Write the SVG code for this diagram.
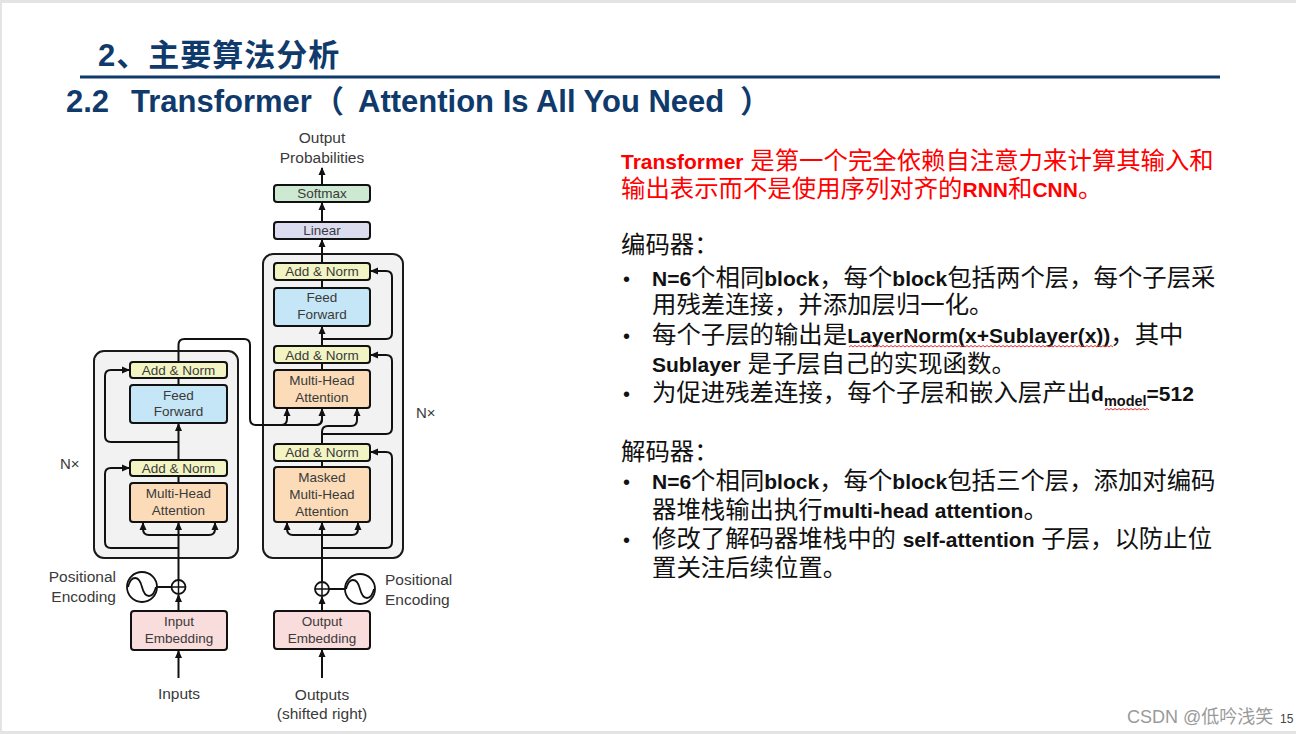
<svg xmlns="http://www.w3.org/2000/svg" width="1296" height="734" viewBox="0 0 1296 734">
<defs>
<marker id="ah" markerUnits="userSpaceOnUse" markerWidth="8" markerHeight="8" refX="7" refY="4" orient="auto">
<path d="M0,0.5 L8,4 L0,7.5 Z" fill="#111"/>
</marker>
<style>
.outer{fill:#f2f2f2;stroke:#1a1a1a;stroke-width:2}
.box{stroke:#111;stroke-width:2}
.an{fill:#f2f4c4}
.ff{fill:#c4e6f6}
.mha{fill:#fcdcb8}
.emb{fill:#f9dcdc}
.sm{fill:#cde9d2}
.lin{fill:#dcdcf0}
.lbl{font-family:"Liberation Sans",Arial,sans-serif;font-size:13.5px;fill:#3a3a3a;text-anchor:middle;dominant-baseline:central}
.olbl{font-family:"Liberation Sans",Arial,sans-serif;font-size:15.5px;fill:#3a3a3a;dominant-baseline:central}
.c{fill:none;stroke:#111;stroke-width:2}
.ca{fill:none;stroke:#111;stroke-width:2;marker-end:url(#ah)}
.hd{font-family:"Liberation Sans","Noto Sans CJK SC",sans-serif;font-weight:bold;fill:#0f3a6b}
.bt{font-family:"Liberation Sans","Noto Sans CJK SC",sans-serif;font-size:24.4px;fill:#111}
.b{font-weight:bold;font-size:21px}
.red{fill:#ff0000}
.sq{fill:none;stroke:#e03030;stroke-width:1}
</style>
</defs>
<rect x="0" y="0" width="1296" height="734" fill="#e4e4e4"/>
<rect x="2" y="3" width="1294" height="728" fill="#ffffff"/>

<!-- header -->
<text class="hd" x="98" y="66" font-size="31" letter-spacing="1">2、主要算法分析</text>
<line x1="80" y1="77" x2="1220" y2="77" stroke="#0f3a6b" stroke-width="3"/>
<text class="hd" y="112" font-size="31"><tspan x="66">2.2</tspan><tspan x="131">Transformer</tspan><tspan x="313" font-family="Noto Sans CJK SC,sans-serif">（</tspan><tspan x="358">Attention Is All You Need</tspan><tspan x="740" font-family="Noto Sans CJK SC,sans-serif">）</tspan></text>

<!-- encoder -->
<g id="encoder">
<rect class="outer" x="94" y="351" width="144" height="207" rx="10"/>
<text class="lbl" x="60" y="463" style="text-anchor:start;font-size:15px">N×</text>
</g>
<g id="enc-addnorm2"><rect class="box an" x="130" y="362" width="97" height="16" rx="3"/><text class="lbl" x="178.5" y="370.5">Add &amp; Norm</text></g>
<g id="enc-ff"><rect class="box ff" x="130" y="385" width="97" height="38" rx="3"/><text class="lbl" x="178.5" y="395">Feed</text><text class="lbl" x="178.5" y="411">Forward</text></g>
<g id="enc-addnorm1"><rect class="box an" x="130" y="460" width="97" height="16" rx="3"/><text class="lbl" x="178.5" y="468.5">Add &amp; Norm</text></g>
<g id="enc-mha"><rect class="box mha" x="130" y="483" width="97" height="39" rx="3"/><text class="lbl" x="178.5" y="493">Multi-Head</text><text class="lbl" x="178.5" y="510">Attention</text></g>
<g id="enc-emb"><rect class="box emb" x="131" y="611" width="96" height="39" rx="3"/><text class="lbl" x="179" y="621">Input</text><text class="lbl" x="179" y="638">Embedding</text></g>
<g id="enc-pe">
<circle cx="142" cy="587" r="15" fill="#fff" stroke="#111" stroke-width="1.8"/>
<path d="M128,587 C131,575 139,575 142,587 S153,599 156,587" fill="none" stroke="#111" stroke-width="1.8"/>
<circle cx="178.5" cy="587" r="7" fill="#fff" stroke="#111" stroke-width="1.8"/>
<path d="M171.5,587 H185.5 M178.5,580 V594" stroke="#111" stroke-width="1.5"/>
<text class="olbl" x="116" y="576" text-anchor="end">Positional</text>
<text class="olbl" x="116" y="596" text-anchor="end">Encoding</text>
</g>
<g id="enc-input"><text class="olbl" x="179" y="693" text-anchor="middle">Inputs</text></g>

<!-- decoder -->
<g id="decoder">
<rect class="outer" x="263" y="254" width="140" height="304" rx="10"/>
<text class="lbl" x="416" y="412" style="text-anchor:start;font-size:15px">N×</text>
</g>
<g id="dec-addnorm3"><rect class="box an" x="274" y="263" width="96" height="17" rx="3"/><text class="lbl" x="322" y="271.5">Add &amp; Norm</text></g>
<g id="dec-ff"><rect class="box ff" x="274" y="288" width="96" height="38" rx="3"/><text class="lbl" x="322" y="297">Feed</text><text class="lbl" x="322" y="314">Forward</text></g>
<g id="dec-addnorm2"><rect class="box an" x="274" y="346" width="96" height="17" rx="3"/><text class="lbl" x="322" y="355">Add &amp; Norm</text></g>
<g id="dec-mha"><rect class="box mha" x="274" y="370" width="96" height="38" rx="3"/><text class="lbl" x="322" y="380">Multi-Head</text><text class="lbl" x="322" y="397">Attention</text></g>
<g id="dec-addnorm1"><rect class="box an" x="274" y="444" width="96" height="17" rx="3"/><text class="lbl" x="322" y="452.5">Add &amp; Norm</text></g>
<g id="dec-mmha"><rect class="box mha" x="274" y="467" width="96" height="55" rx="3"/><text class="lbl" x="322" y="477">Masked</text><text class="lbl" x="322" y="494">Multi-Head</text><text class="lbl" x="322" y="511">Attention</text></g>
<g id="dec-emb"><rect class="box emb" x="274" y="611" width="96" height="38" rx="3"/><text class="lbl" x="322" y="621">Output</text><text class="lbl" x="322" y="638">Embedding</text></g>
<g id="dec-pe">
<circle cx="360" cy="589" r="15" fill="#fff" stroke="#111" stroke-width="1.8"/>
<path d="M346,589 C349,577 357,577 360,589 S371,601 374,589" fill="none" stroke="#111" stroke-width="1.8"/>
<circle cx="322" cy="589" r="7" fill="#fff" stroke="#111" stroke-width="1.8"/>
<path d="M315,589 H329 M322,582 V596" stroke="#111" stroke-width="1.5"/>
<text class="olbl" x="385" y="579">Positional</text>
<text class="olbl" x="385" y="599">Encoding</text>
</g>
<g id="dec-input"><text class="olbl" x="322" y="694" text-anchor="middle">Outputs</text><text class="olbl" x="322" y="713" text-anchor="middle">(shifted right)</text></g>
<g id="linear"><rect class="box lin" x="274" y="222" width="96" height="17" rx="3"/><text class="lbl" x="322" y="230.5">Linear</text></g>
<g id="softmax"><rect class="box sm" x="274" y="185" width="96" height="17" rx="3"/><text class="lbl" x="322" y="193.5">Softmax</text></g>
<g id="output"><text class="olbl" x="322" y="137" text-anchor="middle">Output</text><text class="olbl" x="322" y="157" text-anchor="middle">Probabilities</text></g>

<!-- connectors -->
<g id="connectors">
<path class="ca" d="M178.5,678 V651"/>
<path class="ca" d="M178.5,611 V595"/>
<path class="c" d="M157,587 H171.5"/>
<path class="ca" d="M178.5,580 V523"/>
<path class="ca" d="M178.5,535 H149 Q143,535 143,529 V523"/>
<path class="ca" d="M178.5,535 H209 Q215,535 215,529 V523"/>
<path class="ca" d="M178.5,548 H111 Q105,548 105,542 V474 Q105,468 111,468 H129"/>
<path class="c" d="M178.5,483 V476"/>
<path class="ca" d="M178.5,460 V424"/>
<path class="ca" d="M178.5,442 H111 Q105,442 105,436 V376 Q105,370 111,370 H129"/>
<path class="c" d="M178.5,385 V378"/>
<path class="c" d="M178.5,362 V345 Q178.5,339 184.5,339 H244 Q250,339 250,345 V419 Q250,425 256,425 H316 Q322,425 322,419 V409"/>
<path class="ca" d="M281,425 Q287,425 287,419 V409"/>
<path class="ca" d="M316,425 Q322,425 322,419 V409"/>
<path class="ca" d="M322,678 V650"/>
<path class="ca" d="M322,611 V597"/>
<path class="c" d="M329,589 H345"/>
<path class="ca" d="M322,582 V523"/>
<path class="ca" d="M322,535 H293 Q287,535 287,529 V523"/>
<path class="ca" d="M322,535 H352 Q358,535 358,529 V523"/>
<path class="ca" d="M322,548 H386 Q392,548 392,542 V458 Q392,452 386,452 H371"/>
<path class="c" d="M322,467 V461"/>
<path class="ca" d="M322,444 V432 Q322,426 328,426 H351 Q357,426 357,420 V409"/>
<path class="ca" d="M322,434 H386 Q392,434 392,428 V361 Q392,355 386,355 H371"/>
<path class="c" d="M322,370 V363"/>
<path class="ca" d="M322,346 V327"/>
<path class="ca" d="M322,339 H386 Q392,339 392,333 V277 Q392,271 386,271 H371"/>
<path class="c" d="M322,288 V280"/>
<path class="ca" d="M322,263 V240"/>
<path class="ca" d="M322,222 V203"/>
<path class="ca" d="M322,185 V168"/>
</g>

<!-- right text -->
<g id="notes">
<text class="bt red" y="169"><tspan x="621" class="b">Transformer</tspan> 是第一个完全依赖自注意力来计算其输入和</text>
<text class="bt red" y="197" x="621">输出表示而不是使用序列对齐的<tspan class="b">RNN</tspan>和<tspan class="b">CNN</tspan>。</text>
<text class="bt" x="621" y="253">编码器：</text>
<text class="bt" y="286"><tspan x="623" font-size="20">•</tspan><tspan x="652" class="b">N=6</tspan>个相同<tspan class="b">block</tspan>，每个<tspan class="b">block</tspan>包括两个层，每个子层采</text>
<text class="bt" x="652" y="313">用残差连接，并添加层归一化。</text>
<text class="bt" y="343"><tspan x="623" font-size="20">•</tspan><tspan x="652">每个子层的输出是</tspan><tspan class="b">LayerNorm(x+Sublayer(x))</tspan>，其中</text>
<text class="bt" x="652" y="372"><tspan class="b">Sublayer</tspan> 是子层自己的实现函数。</text>
<text class="bt" y="401"><tspan x="623" font-size="20">•</tspan><tspan x="652">为促进残差连接，每个子层和嵌入层产出</tspan><tspan class="b">d</tspan><tspan class="b" style="font-size:14.5px" dy="5">model</tspan><tspan class="b" dy="-5">=512</tspan></text>
<text class="bt" x="621" y="460">解码器：</text>
<text class="bt" y="489"><tspan x="623" font-size="20">•</tspan><tspan x="652" class="b">N=6</tspan>个相同<tspan class="b">block</tspan>，每个<tspan class="b">block</tspan>包括三个层，添加对编码</text>
<text class="bt" x="652" y="518">器堆栈输出执行<tspan class="b">multi-head attention</tspan>。</text>
<text class="bt" y="547"><tspan x="623" font-size="20">•</tspan><tspan x="652">修改了解码器堆栈中的 </tspan><tspan class="b">self-attention</tspan> 子层，以防止位</text>
<text class="bt" x="652" y="576">置关注后续位置。</text>
<path class="sq" d="M849,347 l2,-1.5 l2,1.5 l2,-1.5 l2,1.5 l2,-1.5 l2,1.5 l2,-1.5 l2,1.5 l2,-1.5 l2,1.5 l2,-1.5 l2,1.5 l2,-1.5 l2,1.5 l2,-1.5 l2,1.5 l2,-1.5 l2,1.5 l2,-1.5 l2,1.5 l2,-1.5 l2,1.5 l2,-1.5 l2,1.5 l2,-1.5 l2,1.5 l2,-1.5 l2,1.5 l2,-1.5 l2,1.5 l2,-1.5 l2,1.5 l2,-1.5 l2,1.5 l2,-1.5 l2,1.5 l2,-1.5 l2,1.5 l2,-1.5 l2,1.5 l2,-1.5 l2,1.5 l2,-1.5 l2,1.5 l2,-1.5 l2,1.5 l2,-1.5 l2,1.5 l2,-1.5 l2,1.5 l2,-1.5 l2,1.5 l2,-1.5 l2,1.5 l2,-1.5 l2,1.5 l2,-1.5 l2,1.5 l2,-1.5 l2,1.5 l2,-1.5 l2,1.5 l2,-1.5 l2,1.5 l2,-1.5 l2,1.5 l2,-1.5 l2,1.5 l2,-1.5 l2,1.5 l2,-1.5 l2,1.5 l2,-1.5 l2,1.5 l2,-1.5 l2,1.5 l2,-1.5 l2,1.5 l2,-1.5 l2,1.5 l2,-1.5 l2,1.5 l2,-1.5 l2,1.5 l2,-1.5 l2,1.5 l2,-1.5 l2,1.5 l2,-1.5 l2,1.5 l2,-1.5 l2,1.5 l2,-1.5 l2,1.5 l2,-1.5 l2,1.5 l2,-1.5 l2,1.5 l2,-1.5 l2,1.5 l2,-1.5 l2,1.5 l2,-1.5 l2,1.5 l2,-1.5 l2,1.5 l2,-1.5 l2,1.5 l2,-1.5 l2,1.5 l2,-1.5 l2,1.5 l2,-1.5 l2,1.5 l2,-1.5 l2,1.5 l2,-1.5 l2,1.5 l2,-1.5 l2,1.5 l2,-1.5 l2,1.5 l2,-1.5 l2,1.5 l2,-1.5 l2,1.5 l2,-1.5 l2,1.5 l2,-1.5 l2,1.5 l2,-1.5 l2,1.5"/>
<path class="sq" d="M1105,410 l2,-1.5 l2,1.5 l2,-1.5 l2,1.5 l2,-1.5 l2,1.5 l2,-1.5 l2,1.5 l2,-1.5 l2,1.5 l2,-1.5 l2,1.5 l2,-1.5 l2,1.5 l2,-1.5 l2,1.5 l2,-1.5 l2,1.5 l2,-1.5 l2,1.5 l2,-1.5 l2,1.5"/>
</g>

<!-- footer -->
<text x="1280" y="723" font-family="Liberation Sans,sans-serif" font-size="12" fill="#444">15</text>
<text x="1127" y="723" font-family="'Liberation Sans','Noto Sans CJK SC',sans-serif" font-size="18" fill="#9a9a9a">CSDN @低吟浅笑</text>
</svg>
